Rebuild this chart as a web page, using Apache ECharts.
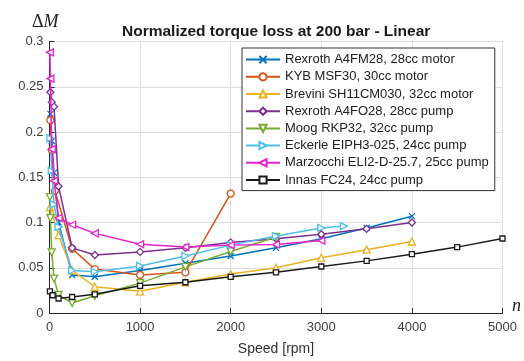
<!DOCTYPE html>
<html>
<head>
<meta charset="utf-8">
<script src="https://cdn.jsdelivr.net/npm/echarts@6/dist/echarts.min.js"></script>
<style>
html,body{margin:0;padding:0;background:#fff;}
#chart{width:524px;height:361px;}
</style>
</head>
<body>
<div id="chart"></div>
<script>
// ---- data ----
const seriesNames = [
  'Rexroth A4FM28, 28cc motor',
  'KYB MSF30, 30cc motor',
  'Brevini SH11CM030, 32cc motor',
  'Rexroth A4FO28, 28cc pump',
  'Moog RKP32, 32cc pump',
  'Eckerle EIPH3-025, 24cc pump',
  'Marzocchi ELI2-D-25.7, 25cc pump',
  'Innas FC24, 24cc pump'
];
const xTicks = [0, 1000, 2000, 3000, 4000, 5000];
const yTicks = [0, 0.05, 0.1, 0.15, 0.2, 0.25, 0.3];

const speedRexrothM = [10, 25, 50, 100, 250, 500, 1000, 1500, 2000, 2500, 3000, 3500, 4000];
const lossRexrothM  = [0.22, 0.19, 0.155, 0.10, 0.042, 0.040, 0.047, 0.055, 0.063, 0.072, 0.082, 0.094, 0.107];

const speedKYB = [10, 25, 60, 250, 500, 1000, 1500, 2000];
const lossKYB  = [0.213, 0.18, 0.135, 0.071, 0.0485, 0.042, 0.045, 0.132];

const speedBrevini = [5, 25, 100, 250, 500, 1000, 1500, 2000, 2500, 3000, 3500, 4000];
const lossBrevini  = [0.117, 0.11, 0.086, 0.047, 0.029, 0.024, 0.034, 0.043, 0.050, 0.061, 0.070, 0.079];

const speedRexrothP = [10, 25, 50, 100, 250, 500, 1000, 1500, 2000, 2500, 3000, 3500, 4000];
const lossRexrothP  = [0.244, 0.233, 0.228, 0.140, 0.072, 0.064, 0.0675, 0.072, 0.078, 0.082, 0.087, 0.093, 0.100];

const speedMoog = [5, 10, 25, 50, 100, 250, 500, 1000, 1500, 2000, 2500];
const lossMoog  = [0.128, 0.105, 0.067, 0.038, 0.020, 0.011, 0.019, 0.033, 0.051, 0.068, 0.084];

const speedEckerle = [10, 25, 50, 100, 250, 500, 1000, 1500, 2000, 2500, 3000, 3250];
const lossEckerle  = [0.193, 0.157, 0.12, 0.095, 0.047, 0.0456, 0.052, 0.063, 0.075, 0.085, 0.094, 0.096];

const speedMarzocchi = [5, 10, 25, 50, 100, 250, 500, 1000, 1500, 2000, 2500, 3000];
const lossMarzocchi  = [0.288, 0.259, 0.181, 0.146, 0.105, 0.0975, 0.088, 0.076, 0.073, 0.075, 0.0757, 0.080];

const speedInnas = [5, 35, 100, 250, 500, 1000, 1500, 2000, 2500, 3000, 3500, 4000, 4500, 5000];
const lossInnas  = [0.024, 0.0196, 0.016, 0.0177, 0.0206, 0.030, 0.034, 0.040, 0.045, 0.0514, 0.0576, 0.065, 0.0728, 0.0823];

const colors = ['#0072BD', '#D95319', '#EDB120', '#7E2F8E', '#77AC30', '#4DBEEE', '#E822CC', '#1a1a1a'];
const symbols = [
  'path://M0,0L10,10M10,0L0,10',
  'circle',
  'triangle',
  'diamond',
  'path://M0,0L10,0L5,9Z',
  'path://M0,0L9,5L0,10Z',
  'path://M9,0L0,5L9,10Z',
  'rect'
];
const symbolSizes = [6, 7, 7, 7, 7, 7, 7, 5];

const speeds = [speedRexrothM, speedKYB, speedBrevini, speedRexrothP, speedMoog, speedEckerle, speedMarzocchi, speedInnas];
const losses = [lossRexrothM, lossKYB, lossBrevini, lossRexrothP, lossMoog, lossEckerle, lossMarzocchi, lossInnas];

// ---- chart ----
const chart = echarts.init(document.getElementById('chart'), null, {renderer: 'canvas'});
const series = seriesNames.map((name, i) => ({
  name: name,
  type: 'line',
  data: speeds[i].map((s, j) => [s, losses[i][j]]),
  symbol: symbols[i],
  symbolSize: symbolSizes[i],
  showAllSymbol: true,
  color: colors[i],
  lineStyle: {color: colors[i], width: 1.5},
  itemStyle: {color: '#fff', borderColor: colors[i], borderWidth: 1.3},
  emphasis: {disabled: true},
  animation: false,
  z: 2 + i
}));

const option = {
  backgroundColor: '#fff',
  animation: false,
  title: {
    text: 'Normalized torque loss at 200 bar - Linear',
    left: 117, top: 19,
    textStyle: {fontFamily: 'Liberation Sans, Arial, sans-serif', fontSize: 15.5, fontWeight: 'bold', color: '#1a1a1a'}
  },
  grid: {left: 49.5, right: 21.5, top: 41.5, bottom: 43, containLabel: false},
  legend: {
    orient: 'vertical',
    left: 242, top: 48,
    itemWidth: 34, itemHeight: 9, itemGap: 2,
    padding: [4, 6, 3, 3],
    backgroundColor: '#fff',
    borderColor: '#333', borderWidth: 1,
    textStyle: {fontFamily: 'Liberation Sans, Arial, sans-serif', fontSize: 13, lineHeight: 15.2, color: '#222'},
    data: seriesNames
  },
  xAxis: {
    type: 'value', min: xTicks[0], max: xTicks[xTicks.length - 1], interval: 1000,
    name: 'Speed [rpm]', nameLocation: 'middle', nameGap: 29,
    nameTextStyle: {fontFamily: 'Liberation Sans, Arial, sans-serif', fontSize: 14, color: '#333'},
    axisLine: {show: true, lineStyle: {color: '#262626', width: 1}},
    axisTick: {show: true, inside: true, length: 5, lineStyle: {color: '#262626'}},
    axisLabel: {fontFamily: 'Liberation Sans, Arial, sans-serif', fontSize: 13, color: '#404040', margin: 8,
      formatter: v => String(v)},
    splitLine: {show: true, lineStyle: {color: '#dedede', width: 1}}
  },
  yAxis: {
    type: 'value', min: yTicks[0], max: yTicks[yTicks.length - 1], interval: 0.05,
    axisLine: {show: true, lineStyle: {color: '#262626', width: 1}},
    axisTick: {show: true, inside: true, length: 5, lineStyle: {color: '#262626'}},
    axisLabel: {fontFamily: 'Liberation Sans, Arial, sans-serif', fontSize: 13, color: '#404040', margin: 6},
    splitLine: {show: true, lineStyle: {color: '#dedede', width: 1}}
  },
  graphic: [
    {type: 'text', left: 32, top: 13, style: {
      text: '{a|Δ}{b|M}',
      rich: {
        a: {fontFamily: 'Liberation Serif, Times New Roman, serif', fontSize: 18, fill: '#222'},
        b: {fontFamily: 'Liberation Serif, Times New Roman, serif', fontSize: 18, fontStyle: 'italic', fill: '#222'}
      }
    }},
    {type: 'text', left: 512, top: 297, style: {
      text: 'n', fontFamily: 'Liberation Serif, Times New Roman, serif', fontSize: 18, fontStyle: 'italic', fill: '#222'
    }}
  ],
  series: series
};
chart.setOption(option);
</script>
</body>
</html>
